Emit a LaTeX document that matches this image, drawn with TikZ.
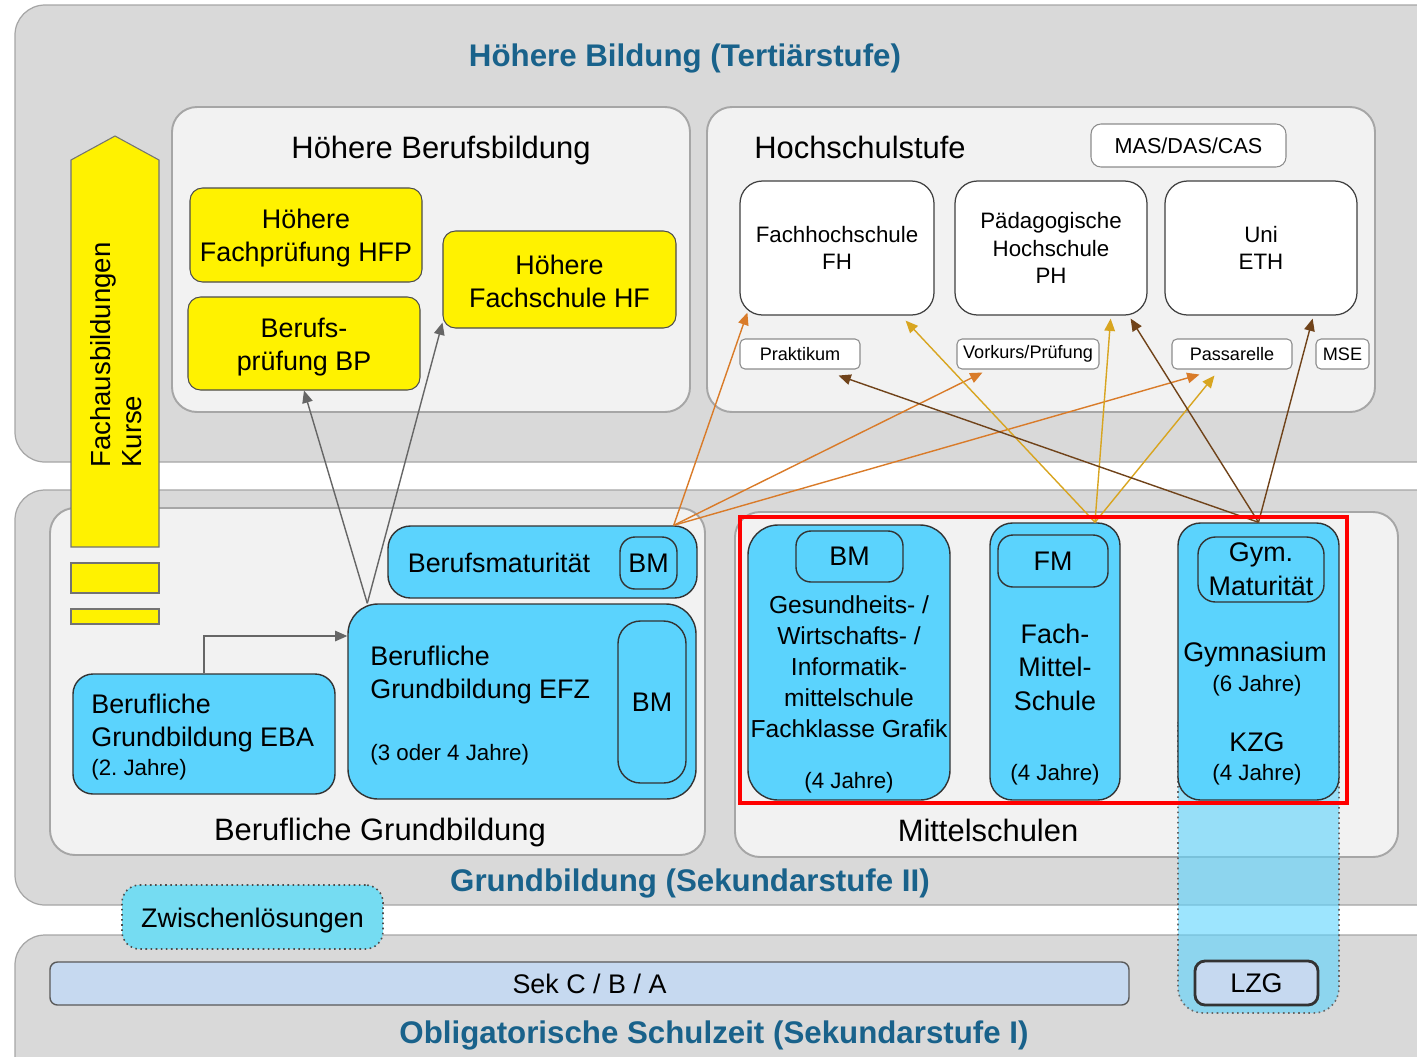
\documentclass[tikz,border=0pt]{standalone}
\usepackage{fontspec}
\setmainfont{Liberation Sans}
\usetikzlibrary{positioning,fit,calc,arrows.meta}

\definecolor{stufegray}{HTML}{D9D9D9}
\definecolor{panelgray}{HTML}{F2F2F2}
\definecolor{paneledge}{HTML}{A6A6A6}
\definecolor{titleblue}{HTML}{19628B}
\definecolor{boxblue}{HTML}{5BD3FD}
\definecolor{zwblue}{HTML}{75DCF2}
\definecolor{sekblue}{HTML}{C6D9F0}
\definecolor{arrorange}{HTML}{D97B29}
\definecolor{arrgold}{HTML}{D8A520}
\definecolor{arrbrown}{HTML}{70431A}
\definecolor{arrgray}{HTML}{666666}

\begin{document}
\begin{tikzpicture}[x=0.02cm,y=-0.02cm,>={Triangle[length=7pt,width=6pt]},
    stufe/.style={fill=stufegray,draw=paneledge,line width=0.7pt,rounded corners=0.6cm},
    panel/.style={fill=panelgray,draw=paneledge,line width=1.1pt,rounded corners=0.5cm},
    yel/.style={fill=yellow,draw=black!70,line width=0.6pt,rounded corners=0.25cm,inner sep=0pt},
    hs/.style={fill=white,draw=black!75,line width=0.7pt,rounded corners=0.45cm,inner sep=0pt},
    lab/.style={fill=white,draw=black!45,line width=0.6pt,rounded corners=0.1cm,inner sep=0pt},
    blu/.style={fill=boxblue,draw=black!80,line width=0.8pt,rounded corners=0.45cm,inner sep=0pt},
    ttl/.style={text=titleblue,font=\fontsize{17.8}{21}\selectfont\bfseries},
    big/.style={font=\fontsize{17.6}{21}\selectfont},
    txt/.style={font=\fontsize{15.3}{18.8}\selectfont,align=center},
    sml/.style={font=\fontsize{12.7}{15.8}\selectfont,align=center},
    tny/.style={font=\fontsize{10.3}{12}\selectfont},
    pfeil/.style={->,line width=0.8pt}]
  \useasboundingbox (0,0) rectangle (1417,1056);
  \clip (0,0) rectangle (1417,1056);

  \draw[stufe] (15,5) rectangle (1470,462);
  \draw[stufe] (15,490) rectangle (1470,905);
  \draw[stufe] (15,935) rectangle (1470,1100);
  \node[ttl] (tterti) at (685,58) {Höhere Bildung (Tertiärstufe)};
  \node[ttl] (tsekzwei) at (690,883) {Grundbildung (Sekundarstufe II)};
  \node[ttl] (tsekeins) at (714,1035) {Obligatorische Schulzeit (Sekundarstufe I)};

  \draw[panel] (172,107) rectangle (690,412);
  \draw[panel] (707,107) rectangle (1375,412);
  \draw[panel] (50,508) rectangle (705,855);
  \draw[panel] (735,512) rectangle (1398,857);
  \node[big] (thbb) at (441,150) {Höhere Berufsbildung};
  \node[big] (ths) at (860,147) {Hochschulstufe};
  \node[big] (tbg) at (380,832) {Berufliche Grundbildung};
  \node[big] (tms) at (988,830) {Mittelschulen};

  \draw[fill=yellow,draw=black!55,line width=0.6pt] (71,547) -- (71,160) -- (115,136) -- (159,160) -- (159,547) -- cycle;
  \draw[fill=yellow,draw=black!55,line width=0.6pt] (71,563) rectangle (159,593);
  \draw[fill=yellow,draw=black!55,line width=0.6pt] (71,609) rectangle (159,624);
  \node[rotate=90,align=left,font=\fontsize{15.7}{17.8}\selectfont] (fachtxt) at (116,355) {Fachausbildungen\\Kurse};

  \node[yel,fit={(190,188) (422,282)}] (hfp) {};
  \node[txt] (hfptxt) at ([yshift=-0.06cm]hfp) {Höhere\\Fachprüfung HFP};
  \node[yel,fit={(188,297) (420,390)}] (bp) {};
  \node[txt] (bptxt) at ([yshift=-0.07cm]bp) {Berufs-\\prüfung BP};
  \node[yel,fit={(443,231) (676,328)}] (hf) {};
  \node[txt] (hftxt) at ([yshift=-0.03cm]hf) {Höhere\\Fachschule HF};

  \node[lab,rounded corners=0.2cm,fit={(1091,124) (1286,167)}] (mas) {};
  \node[font=\fontsize{12.3}{14}\selectfont] (mastxt) at (mas) {MAS/DAS/CAS};
  \node[hs,fit={(740,181) (934,315)}] (fh) {};
  \node[sml] (fhtxt) at (fh) {Fachhochschule\\FH};
  \node[hs,fit={(955,181) (1147,315)}] (ph) {};
  \node[sml] (phtxt) at (ph) {Pädagogische\\Hochschule\\PH};
  \node[hs,fit={(1165,181) (1357,315)}] (uni) {};
  \node[sml] (unitxt) at (uni) {Uni\\ETH};
  \node[lab,fit={(740,339) (860,369)}] (prak) {};
  \node[tny] (praktxt) at (prak) {Praktikum};
  \node[lab,fit={(957,339) (1099,369)}] (vork) {};
  \node[tny] (vorktxt) at (vork) {Vorkurs/Prüfung};
  \node[lab,fit={(1172,339) (1292,369)}] (pass) {};
  \node[tny] (passtxt) at (pass) {Passarelle};
  \node[lab,fit={(1316,339) (1369,369)}] (mse) {};
  \node[tny] (msetxt) at (mse) {MSE};

  \node[blu,fit={(388,526) (697,598)}] (bms) {};
  \node[txt] (bmstxt) at (499,563) {Berufsmaturität};
  \node[blu,rounded corners=0.3cm,fit={(620,537) (677,589)}] (bmsbm) {};
  \node[txt] (bmsbmtxt) at (bmsbm) {BM};
  \node[blu,rounded corners=0.6cm,fit={(348,604) (696,799)}] (efz) {};
  \node[blu,rounded corners=0.45cm,fit={(618,621) (686,783)}] (efzbm) {};
  \node[txt] (efzbmtxt) at (efzbm) {BM};
  \node[txt,align=left,anchor=west,inner sep=0pt] (efztxt) at (370,675) {Berufliche\\Grundbildung EFZ};
  \node[sml,anchor=west,inner sep=0pt] (efzj) at (370,755) {(3 oder 4 Jahre)};
  \node[blu,rounded corners=0.4cm,fit={(73,674) (335,794)}] (eba) {};
  \node[txt,align=left,anchor=west,inner sep=0pt] (ebatxt) at (91,723) {Berufliche\\Grundbildung EBA};
  \node[sml,anchor=west,inner sep=0pt] (ebaj) at (91,770) {(2.\ Jahre)};

  \draw[fill=boxblue,fill opacity=0.6,draw=black!60,dotted,line width=0.9pt,rounded corners=0.5cm] (1178,700) rectangle (1339,1013);

  \node[blu,rounded corners=0.6cm,fit={(748,525) (950,800)}] (bmcol) {};
  \node[blu,rounded corners=0.3cm,fit={(796,531) (903,582)}] (bmms) {};
  \node[txt] (bmmstxt) at (bmms) {BM};
  \node[align=center,font=\fontsize{14}{17.6}\selectfont] (wms) at (849,667) {Gesundheits- /\\Wirtschafts- /\\Informatik-\\mittelschule\\Fachklasse Grafik};
  \node[sml] (wmsj) at (849,783) {(4 Jahre)};
  \node[blu,fit={(990,523) (1120,800)}] (fm) {};
  \node[blu,rounded corners=0.3cm,fit={(998,535) (1108,587)}] (fmin) {};
  \node[txt] (fmintxt) at (fmin) {FM};
  \node[align=center,font=\fontsize{15.3}{19.1}\selectfont] (fmtxt) at (1055,667) {Fach-\\Mittel-\\Schule};
  \node[sml] (fmj) at (1055,775) {(4 Jahre)};
  \node[blu,fit={(1178,523) (1339,800)}] (gym) {};
  \node[blu,rounded corners=0.35cm,fit={(1198,537) (1324,602)}] (gymin) {};
  \node[align=center,font=\fontsize{15.3}{19.3}\selectfont] (gymintxt) at (gymin) {Gym.\\Maturität};
  \node[txt] (gymn) at (1255,655) {Gymnasium};
  \node[sml] (gymj) at (1257,686) {(6 Jahre)};
  \node[txt] (kzg) at (1257,742) {KZG};
  \node[sml] (kzgj) at (1257,775) {(4 Jahre)};

  \node[fill=zwblue,draw=black!70,dotted,line width=0.9pt,rounded corners=0.35cm,inner sep=0pt,fit={(122,885) (383,949)}] (zwl) {};
  \node[txt] (zwltxt) at ([yshift=-0.07cm]zwl) {Zwischenlösungen};
  \node[fill=sekblue,draw=black!65,line width=0.8pt,rounded corners=0.15cm,inner sep=0pt,fit={(50,962) (1129,1005)}] (sek) {};
  \node[txt] (sektxt) at (sek) {Sek C / B / A};
  \node[fill=sekblue,draw=black!80,line width=1.6pt,rounded corners=0.2cm,inner sep=0pt,fit={(1195,961) (1318,1005)}] (lzg) {};
  \node[txt] (lzgtxt) at (lzg) {LZG};

  \draw[pfeil,arrgray] (eba.north) |- ([yshift=1.31cm]efz.west);
  \draw[pfeil,arrgray] ([xshift=0.4cm]efz.north west) -- (bp.south);
  \draw[pfeil,arrgray] ([xshift=0.4cm]efz.north west) -- ([yshift=0.12cm]hf.south west);

  \draw[pfeil,arrorange] ([xshift=-0.48cm]bms.north east) -- ([xshift=0.16cm,yshift=0.06cm]fh.south west);
  \draw[pfeil,arrorange] ([xshift=-0.48cm]bms.north east) -- ([xshift=0.52cm,yshift=-0.06cm]vork.south west);
  \draw[pfeil,arrorange] ([xshift=-0.48cm]bms.north east) -- ([xshift=0.56cm,yshift=-0.1cm]pass.south west);
  \draw[pfeil,arrgold] ([xshift=0.8cm]fm.north) -- ([xshift=-0.58cm,yshift=-0.1cm]fh.south east);
  \draw[pfeil,arrgold] ([xshift=0.8cm]fm.north) -- ([xshift=-0.74cm,yshift=-0.06cm]ph.south east);
  \draw[pfeil,arrgold] ([xshift=0.8cm]fm.north) -- ([xshift=0.86cm,yshift=-0.12cm]pass.south west);
  \draw[pfeil,arrbrown] (gym.north) -- ([xshift=-0.44cm,yshift=-0.12cm]prak.south east);
  \draw[pfeil,arrbrown] (gym.north) -- ([xshift=-0.34cm,yshift=-0.06cm]ph.south east);
  \draw[pfeil,arrbrown] (gym.north) -- ([xshift=-0.9cm,yshift=-0.06cm]uni.south east);

  \draw[red,line width=2.6pt] (740,517) rectangle (1347,803);
\end{tikzpicture}
\end{document}
